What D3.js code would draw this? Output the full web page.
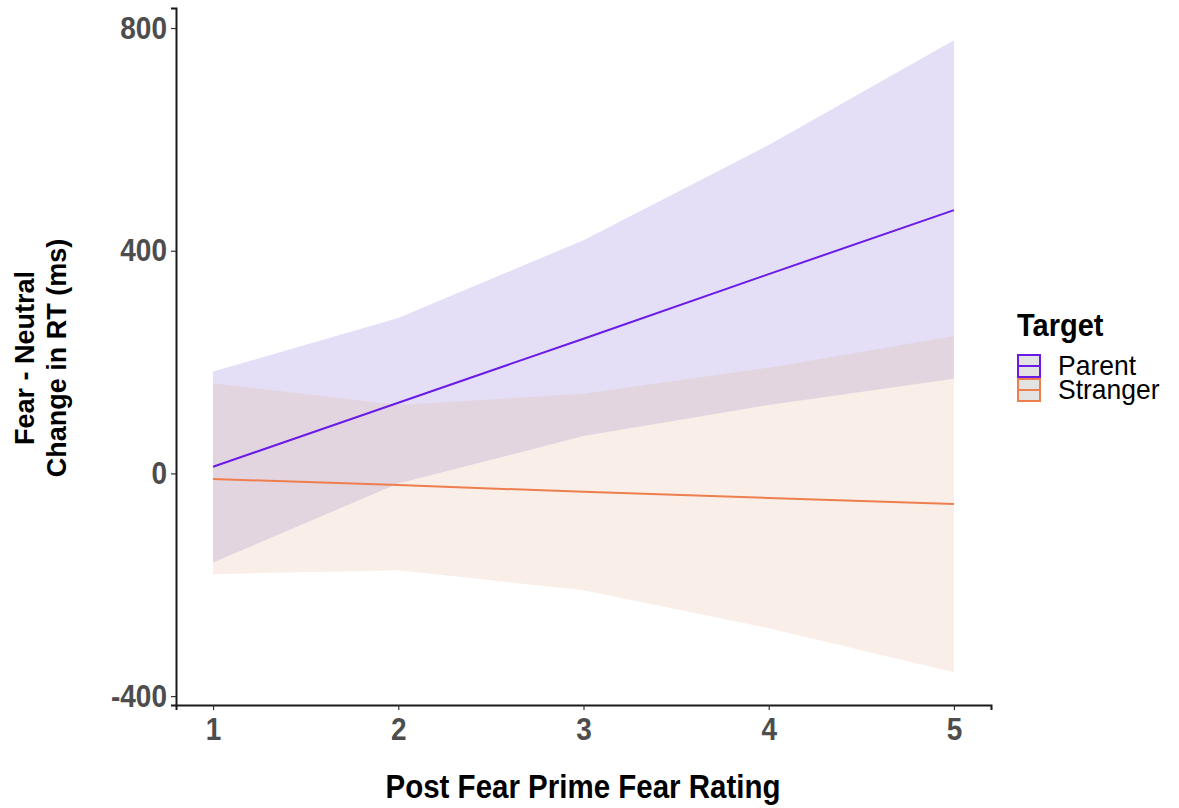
<!DOCTYPE html>
<html>
<head>
<meta charset="utf-8">
<script src="https://cdn.jsdelivr.net/npm/d3@7"></script>
<style>
  html, body { margin: 0; padding: 0; background: #fff; }
  svg { display: block; font-family: "Liberation Sans", Arial, sans-serif; }
</style>
</head>
<body>
<div id="chart"></div>
<script>
// ratings on the x axis
const ratings = [1, 2, 3, 4, 5];

// Parent: fitted line and confidence band
const parentFit   = [12, 127, 242, 358, 473];
const parentUpper = [183, 279, 419, 590, 778];
const parentLower = [-160, -18, 67, 123, 170];

// Stranger: fitted line and confidence band
const strangerFit   = [-10, -21, -33, -44, -55];
const strangerUpper = [162, 123, 143, 190, 247];
const strangerLower = [-181, -174, -210, -278, -357];

const xTicks = [1, 2, 3, 4, 5];
const yTicks = [-400, 0, 400, 800];

const groups = [
  {name: "Parent",   fit: parentFit,   lo: parentLower,   hi: parentUpper,   line: "#6A1BE8", fill: "#785FD2"},
  {name: "Stranger", fit: strangerFit, lo: strangerLower, hi: strangerUpper, line: "#EF7E4E", fill: "#E1AF8C"}
];

const width = 1179, height = 808;
const svg = d3.select("#chart").append("svg")
    .attr("width", width)
    .attr("height", height);

const x = d3.scaleLinear().domain([0.8, 5.2]).range([176, 991]);
const y = d3.scaleLinear().domain([-416, 836]).range([705, 8]);

// ribbons
const area = d3.area()
    .x(d => x(d.x))
    .y0(d => y(d.lo))
    .y1(d => y(d.hi));

const line = d3.line()
    .x(d => x(d.x))
    .y(d => y(d.v));

svg.append("g")
  .selectAll("path")
  .data(groups)
  .enter().append("path")
    .attr("d", g => area(ratings.map((r, i) => ({x: r, lo: g.lo[i], hi: g.hi[i]}))))
    .attr("fill", g => g.fill)
    .attr("fill-opacity", 0.2);

svg.append("g")
  .selectAll("path")
  .data(groups)
  .enter().append("path")
    .attr("d", g => line(ratings.map((r, i) => ({x: r, v: g.fit[i]}))))
    .attr("fill", "none")
    .attr("stroke", g => g.line)
    .attr("stroke-width", 2);

// axes
const xAxis = svg.append("g")
    .attr("transform", "translate(0,705)")
    .call(d3.axisBottom(x).tickValues(xTicks).tickSize(5).tickPadding(0).tickFormat(d => String(d)));
const yAxis = svg.append("g")
    .attr("transform", "translate(176,0)")
    .call(d3.axisLeft(y).tickValues(yTicks).tickSize(5).tickPadding(0).tickFormat(d => String(d)));

[xAxis, yAxis].forEach(a => {
  a.select(".domain").attr("stroke", "#1a1a1a").attr("stroke-width", 2);
  a.selectAll(".tick line").attr("stroke", "#333").attr("stroke-width", 1.2);
  a.selectAll(".tick text")
    .attr("fill", "#4d4d4d")
    .style("font-size", "28px")
    .style("font-weight", "bold");
});
// taller, slightly narrow digits as in the original export
yAxis.selectAll(".tick text")
    .attr("x", 0).attr("y", 0).attr("dy", null)
    .attr("transform", "translate(-9,10) scale(1,1.12)");
xAxis.selectAll(".tick text")
    .attr("x", 0).attr("y", 0).attr("dy", null)
    .attr("transform", "translate(0,35) scale(1,1.12)");

// axis titles
svg.append("text")
    .attr("transform", "translate(583,798) scale(1,1.1)")
    .attr("text-anchor", "middle")
    .style("font-size", "29.5px")
    .style("font-weight", "bold")
    .text("Post Fear Prime Fear Rating");

const yTitle = svg.append("text")
    .attr("transform", "translate(0,358) rotate(-90)")
    .attr("text-anchor", "middle")
    .style("font-size", "27px")
    .style("font-weight", "bold");
yTitle.append("tspan").attr("x", 0).attr("y", 34).text("Fear - Neutral");
yTitle.append("tspan").attr("x", 0).attr("y", 66).text("Change in RT (ms)");

// legend
const legend = svg.append("g").attr("transform", "translate(1017,0)");
legend.append("text")
    .attr("transform", "translate(0,336) scale(1,1.08)")
    .style("font-size", "29px")
    .style("font-weight", "bold")
    .text("Target");

const key = legend.selectAll("g.key")
  .data(groups)
  .enter().append("g")
    .attr("class", "key")
    .attr("transform", (d, i) => `translate(0,${354 + i * 24})`);
key.append("rect")
    .attr("x", 1).attr("y", 1)
    .attr("width", 22).attr("height", 22)
    .attr("fill", "#e3e3e3")
    .attr("stroke", d => d.line)
    .attr("stroke-width", 2);
key.append("line")
    .attr("x1", 1).attr("x2", 23)
    .attr("y1", 12).attr("y2", 12)
    .attr("stroke", d => d.line)
    .attr("stroke-width", 2);
key.append("text")
    .attr("transform", "translate(41,21) scale(1,1.06)")
    .style("font-size", "26.5px")
    .text(d => d.name);
</script>
</body>
</html>
